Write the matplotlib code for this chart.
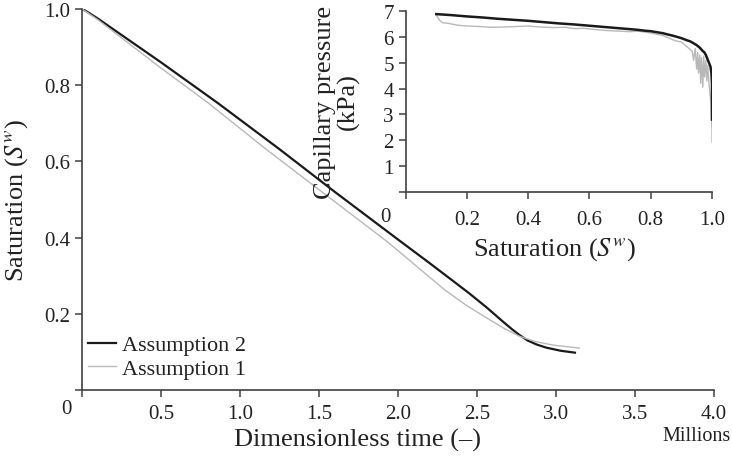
import matplotlib
matplotlib.use("Agg")
import matplotlib.pyplot as plt

plt.rcParams['font.family'] = ['Liberation Serif', 'DejaVu Serif']
plt.rcParams['mathtext.fontset'] = 'stix'

# main plot: saturation vs dimensionless time (millions)
t_a2 = [0, 0.02, 0.1, 0.5, 0.86, 1.25, 1.6, 2.0, 2.2, 2.33, 2.45, 2.56, 2.66, 2.72, 2.77, 2.82, 2.88, 2.94, 3.03, 3.12]
s_a2 = [1.0, 0.996, 0.975, 0.86, 0.753, 0.632, 0.52, 0.395, 0.333, 0.292, 0.254, 0.217, 0.181, 0.160, 0.144, 0.130,
        0.119, 0.111, 0.103, 0.098]
t_a1 = [0, 0.02, 0.1, 0.5, 0.80, 1.165, 1.55, 1.93, 2.295, 2.43, 2.558, 2.67, 2.769, 2.87, 2.979, 3.148]
s_a1 = [1.0, 0.995, 0.972, 0.845, 0.753, 0.632, 0.51, 0.39, 0.263, 0.223, 0.190, 0.162, 0.141, 0.127, 0.118, 0.110]

# inset: capillary pressure vs saturation
sw_a2 = [0.10, 0.15, 0.20, 0.25, 0.30, 0.35, 0.40, 0.45, 0.50, 0.55, 0.60, 0.65, 0.70, 0.75, 0.78, 0.80,
         0.82, 0.84, 0.86, 0.88, 0.90, 0.92, 0.93, 0.94, 0.95, 0.96, 0.97, 0.975, 0.98, 0.985, 0.99,
         0.995, 0.998, 1.0, 1.0]
pc_a2 = [6.88, 6.84, 6.79, 6.75, 6.70, 6.66, 6.62, 6.57, 6.52, 6.48, 6.43, 6.38, 6.33, 6.28, 6.24, 6.22,
         6.18, 6.14, 6.08, 6.02, 5.95, 5.86, 5.82, 5.75, 5.68, 5.58, 5.45, 5.40, 5.30, 5.15, 5.00,
         4.85, 4.60, 4.20, 2.80]
sw_a1 = [0.10, 0.11, 0.12, 0.14, 0.17, 0.20, 0.24, 0.28, 0.32, 0.36, 0.40, 0.44, 0.48, 0.52, 0.55, 0.58,
         0.62, 0.66, 0.70, 0.73, 0.76, 0.80, 0.84, 0.88, 0.90, 0.92, 0.935, 0.94, 0.945, 0.95, 0.953,
         0.956, 0.96, 0.963, 0.966, 0.97, 0.973, 0.976, 0.98, 0.983, 0.986, 0.99, 0.993, 0.996, 0.998,
         1.0, 1.0]
pc_a1 = [6.85, 6.65, 6.55, 6.52, 6.45, 6.42, 6.40, 6.37, 6.38, 6.40, 6.42, 6.38, 6.36, 6.37, 6.32, 6.33,
         6.28, 6.24, 6.22, 6.20, 6.22, 6.15, 6.05, 5.85, 5.80, 5.60, 5.45, 5.10, 5.55, 4.75, 5.40,
         4.60, 5.30, 4.20, 5.20, 4.05, 5.25, 4.45, 5.10, 4.30, 4.90, 4.20, 3.85, 3.50, 2.90,
         2.40, 1.93]

W, H = 732, 464
black = '#1a1a1a'
grey = '#b8b8b8'
axcol = '#404040'
txt = '#222222'
tick_fs = 15
lab_fs = 19

fig = plt.figure(figsize=(W / 100, H / 100), dpi=100)

def style(ax, xpad):
    for s in ['top', 'right']:
        ax.spines[s].set_visible(False)
    for s in ['left', 'bottom']:
        ax.spines[s].set_color(axcol)
        ax.spines[s].set_linewidth(1.2)
    ax.tick_params(direction='out', length=5, width=1.1, color=axcol,
                   labelsize=tick_fs, labelcolor=txt)
    ax.tick_params(axis='x', pad=xpad)

# main axes
ax = fig.add_axes([82 / W, 1 - 391 / H, 632 / W, 381 / H])
ax.plot(t_a2, s_a2, color=black, lw=1.6, label='Assumption 2')
ax.plot(t_a1, s_a1, color=grey, lw=1.0, label='Assumption 1')
ax.set_xlim(0, 4.0)
ax.set_ylim(0, 1.0)
ax.set_xticks([0, 0.5, 1.0, 1.5, 2.0, 2.5, 3.0, 3.5, 4.0])
ax.set_xticklabels(['', '0.5', '1.0', '1.5', '2.0', '2.5', '3.0', '3.5', '4.0'])
ax.set_yticks([0, 0.2, 0.4, 0.6, 0.8, 1.0])
ax.set_yticklabels(['', '0.2', '0.4', '0.6', '0.8', '1.0'])
style(ax, 5)
ax.annotate('0', xy=(0, 0), xycoords='data', xytext=(-16, -19), textcoords='offset pixels',
            ha='center', va='center', fontsize=tick_fs, color=txt, annotation_clip=False)
leg = ax.legend(loc='lower left', bbox_to_anchor=(-0.004, 0.005), frameon=False, fontsize=16,
                handlelength=1.25, handletextpad=0.25, labelspacing=0.15, borderaxespad=0)
for t in leg.get_texts():
    t.set_color(txt)

fig.text(17 / W, 1 - 200 / H, 'Saturation ($S^w$)', rotation=90, ha='center', va='center',
         fontsize=lab_fs, color=txt)
fig.text(358 / W, 1 - 440 / H, 'Dimensionless time (–)', ha='center', va='center',
         fontsize=lab_fs, color=txt)
fig.text(731 / W, 1 - 437 / H, 'Millions', ha='right', va='center', fontsize=14.5, color=txt)

# inset axes
ins = fig.add_axes([405.7 / W, 1 - 193 / H, 306.3 / W, 181 / H])
ins.patch.set_alpha(0)
ins.plot(sw_a1, pc_a1, color=grey, lw=1.0)
ins.plot(sw_a2, pc_a2, color=black, lw=1.8)
ins.set_xlim(0, 1.0)
ins.set_ylim(0, 7)
ins.set_xticks([0, 0.2, 0.4, 0.6, 0.8, 1.0])
ins.set_xticklabels(['', '0.2', '0.4', '0.6', '0.8', '1.0'])
ins.set_yticks(range(8))
ins.set_yticklabels([''] + [str(i) for i in range(1, 8)])
style(ins, 8)
ins.annotate('0', xy=(0, 0), xycoords='data', xytext=(-20, -25), textcoords='offset pixels',
             ha='center', va='center', fontsize=tick_fs, color=txt, annotation_clip=False)
fig.text(337 / W, 1 - 102 / H, 'Capillary pressure\n(kPa)', rotation=90, ha='center', va='center',
         fontsize=lab_fs, color=txt, multialignment='center', linespacing=1.0)
fig.text(555 / W, 1 - 250 / H, 'Saturation ($S^w$)', ha='center', va='center',
         fontsize=lab_fs, color=txt)

fig.savefig('out.png', dpi=100)
